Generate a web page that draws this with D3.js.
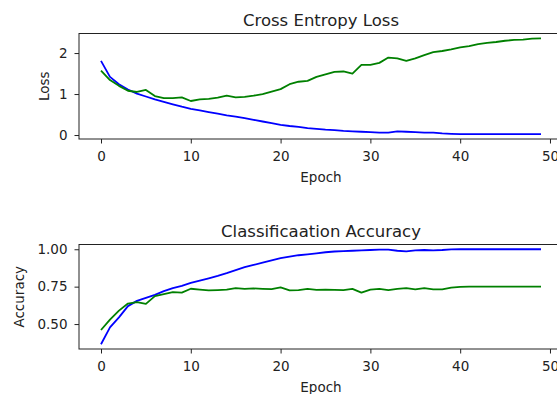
<!DOCTYPE html>
<html>
<head>
<meta charset="utf-8">
<script src="https://cdn.jsdelivr.net/npm/d3@7"></script>
<style>
  body { margin: 0; background: #fff; }
  text { font-family: "DejaVu Sans", sans-serif; fill: #222; }
</style>
</head>
<body>
<svg id="mainFrame" width="557" height="394"></svg>
<script>
const epochs = d3.range(50);

const trainLoss = [1.81, 1.42, 1.24, 1.11, 1.01, 0.94, 0.87, 0.81, 0.75, 0.69,
    0.64, 0.60, 0.56, 0.52, 0.48, 0.45, 0.41, 0.37, 0.33, 0.29,
    0.25, 0.22, 0.20, 0.17, 0.15, 0.13, 0.12, 0.10, 0.09, 0.08,
    0.07, 0.06, 0.06, 0.09, 0.08, 0.07, 0.06, 0.06, 0.04, 0.03,
    0.02, 0.02, 0.02, 0.02, 0.02, 0.02, 0.02, 0.02, 0.02, 0.02];
const valLoss = [1.57, 1.34, 1.20, 1.08, 1.05, 1.10, 0.95, 0.90, 0.90, 0.92,
    0.83, 0.87, 0.88, 0.91, 0.96, 0.92, 0.93, 0.96, 1.00, 1.06,
    1.12, 1.24, 1.30, 1.32, 1.42, 1.48, 1.54, 1.55, 1.50, 1.71,
    1.71, 1.76, 1.89, 1.87, 1.81, 1.87, 1.95, 2.02, 2.05, 2.09,
    2.14, 2.17, 2.22, 2.25, 2.27, 2.30, 2.32, 2.33, 2.35, 2.36];
const trainAcc = [0.365, 0.478, 0.545, 0.62, 0.655, 0.675, 0.695, 0.72, 0.74, 0.755,
    0.775, 0.79, 0.806, 0.822, 0.84, 0.86, 0.88, 0.895, 0.91, 0.925,
    0.94, 0.95, 0.96, 0.966, 0.973, 0.98, 0.985, 0.987, 0.99, 0.993,
    0.995, 0.997, 0.998, 0.99, 0.986, 0.992, 0.995, 0.993, 0.995, 0.999,
    1.0, 1.0, 1.0, 1.0, 1.0, 1.0, 1.0, 1.0, 1.0, 1.0];
const valAcc = [0.46, 0.53, 0.59, 0.637, 0.646, 0.635, 0.687, 0.70, 0.714, 0.71,
    0.736, 0.73, 0.725, 0.727, 0.73, 0.74, 0.735, 0.738, 0.735, 0.733,
    0.745, 0.725, 0.727, 0.735, 0.728, 0.73, 0.728, 0.727, 0.735, 0.71,
    0.73, 0.735, 0.727, 0.735, 0.74, 0.732, 0.74, 0.732, 0.732, 0.743,
    0.748, 0.75, 0.75, 0.75, 0.75, 0.75, 0.75, 0.75, 0.75, 0.75];

const xTicks = [0, 10, 20, 30, 40, 50];
const lossTicks = [0, 1, 2];
const accTicks = [0.50, 0.75, 1.00];

const svg = d3.select('#mainFrame');

const left = 79, right = 563;   // right edge runs past the picture, like the original

// matplotlib style 5% margins
const pad = ext => {
    const d = ext[1] - ext[0];
    return [ext[0] - 0.05 * d, ext[1] + 0.05 * d];
};

const xScale = d3.scaleLinear()
    .domain(pad([0, 49]))
    .range([left, right]);

const panel = (opts) => {
    const { top, bottom, series, yTicks, yFormat, title, yLabel, yLabelX } = opts;
    const allValues = series.flatMap(s => s.values);
    const yScale = d3.scaleLinear()
        .domain(pad(d3.extent(allValues)))
        .range([bottom, top]);

    const g = svg.append('g');

    const xAxis = d3.axisBottom(xScale)
        .tickValues(xTicks)
        .tickSize(4.5)
        .tickPadding(8);
    const xg = g.append('g')
        .attr('transform', `translate(0,${bottom})`)
        .call(xAxis);
    xg.select('.domain').remove();
    xg.selectAll('text').style('font-size', '13.5px');

    const yAxis = d3.axisLeft(yScale)
        .tickValues(yTicks)
        .tickFormat(yFormat)
        .tickSize(4.5)
        .tickPadding(7);
    const yg = g.append('g')
        .attr('transform', `translate(${left},0)`)
        .call(yAxis);
    yg.select('.domain').remove();
    yg.selectAll('text').style('font-size', '13.5px');

    g.selectAll('.tick line').attr('stroke', '#222');

    const line = d3.line()
        .x((d, i) => xScale(epochs[i]))
        .y(d => yScale(d));

    series.forEach(s => {
        g.append('path')
            .datum(s.values)
            .attr('fill', 'none')
            .attr('stroke', s.color)
            .attr('stroke-width', 1.8)
            .attr('stroke-linejoin', 'round')
            .attr('d', line);
    });

    // frame on all four sides
    g.append('rect')
        .attr('x', left)
        .attr('y', top)
        .attr('width', right - left)
        .attr('height', bottom - top)
        .attr('fill', 'none')
        .attr('stroke', '#222')
        .attr('stroke-width', 1);

    g.append('text')
        .attr('x', (left + right) / 2)
        .attr('y', top - 8)
        .attr('text-anchor', 'middle')
        .style('font-size', '16.5px')
        .text(title);

    g.append('text')
        .attr('x', (left + right) / 2)
        .attr('y', bottom + 43)
        .attr('text-anchor', 'middle')
        .style('font-size', '13.5px')
        .text('Epoch');

    g.append('text')
        .attr('transform', `translate(${yLabelX},${(top + bottom) / 2}) rotate(-90)`)
        .attr('text-anchor', 'middle')
        .style('font-size', '13.5px')
        .text(yLabel);
};

panel({
    top: 33.5, bottom: 139,
    series: [
        { values: trainLoss, color: '#0000ff' },
        { values: valLoss, color: '#008000' }
    ],
    yTicks: lossTicks,
    yFormat: d3.format('d'),
    title: 'Cross Entropy Loss',
    yLabel: 'Loss',
    yLabelX: 49
});

panel({
    top: 244.5, bottom: 349,
    series: [
        { values: trainAcc, color: '#0000ff' },
        { values: valAcc, color: '#008000' }
    ],
    yTicks: accTicks,
    yFormat: d3.format('.2f'),
    title: 'Classificaation Accuracy',
    yLabel: 'Accuracy',
    yLabelX: 24
});
</script>
</body>
</html>
